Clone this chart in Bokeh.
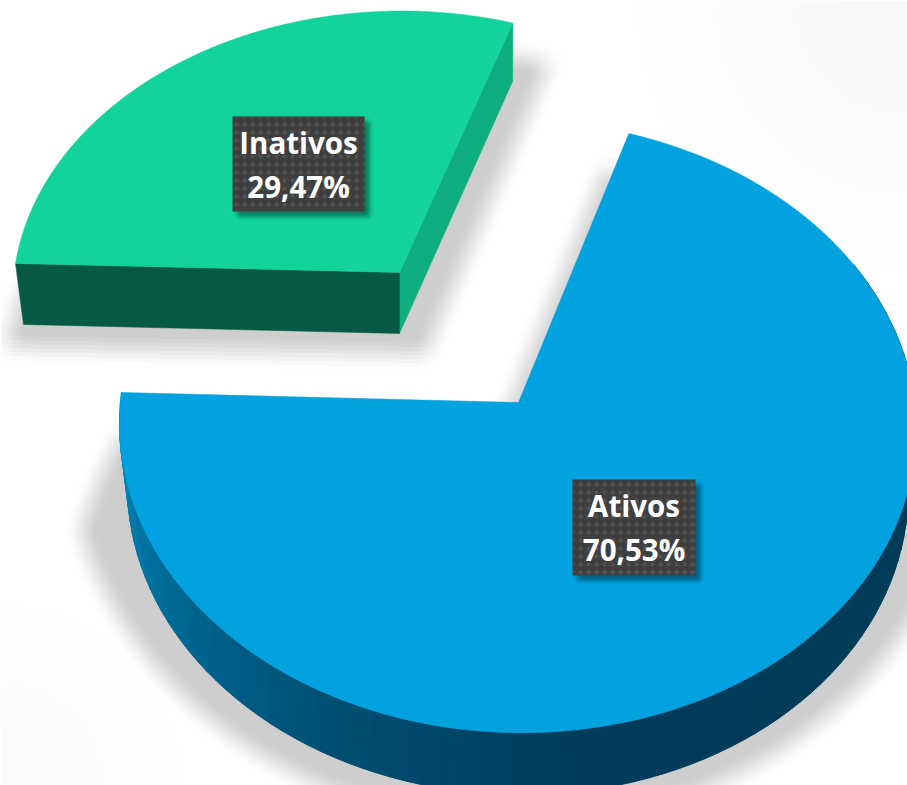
import numpy as np
from bokeh.core.properties import value
from bokeh.embed import file_html
from bokeh.models import Range1d
from bokeh.plotting import figure
from bokeh.resources import INLINE

categories = ["Ativos", "Inativos"]
shares = [70.53, 29.47]
first_slice_start_deg = 16.1

W, H = 907, 785
p = figure(width=W, height=H, output_backend="svg", toolbar_location=None,
           x_range=Range1d(0, W), y_range=Range1d(H, 0),
           x_axis_type=None, y_axis_type=None, min_border=0,
           outline_line_color=None, background_fill_color="white")
p.grid.visible = False

spans = [s / sum(shares) * 360 for s in shares]
a0 = first_slice_start_deg
a1 = a0 + spans[0]
a2 = a1 + spans[1]
K = 0.079


def project(t_deg, cx, cy, rx, ry, sx, ty):
    t = np.radians(np.asarray(t_deg, dtype=float))
    u, v = np.sin(t), np.cos(t)
    w = 1 + K * v
    return cx + (rx * u + sx * v) / w, cy + (-ry * v + ty * u) / w


def arc(start, end, n, *geo):
    return project(np.linspace(start, end, n), *geo)


def wedge(start, end, n, apex, *geo):
    x, y = arc(start, end, n, *geo)
    return np.r_[apex[0], x], np.r_[apex[1], y]


# piece geometries: cx, cy, rx, ry, sx, ty
blue_top = (518, 402, 397, 304, 9, 10)
blue_bot = (518, 464, 389, 304, 9, 10)
green_top = (399, 272, 384, 282, 16, 9)
green_bot = (399, 333, 376, 282, 20, 9)
green_shadow = (425, 355, 420, 330, 19, 7)


def vignette(cx, cy, radii, alpha):
    ang = np.linspace(0, 2 * np.pi, 60)
    xs = [cx + r * np.cos(ang) for r in radii]
    ys = [cy + r * np.sin(ang) for r in radii]
    p.patches(xs, ys, fill_color="black", fill_alpha=alpha, line_color=None)


vignette(907, 0, [70, 110, 150, 190, 230, 270], 0.005)
vignette(0, 785, [60, 100, 140, 180], 0.004)


def soft_shadow(x, y, radius, step, strength):
    off = np.arange(-radius, radius + 1, step)
    pairs = [(a, b) for a in off for b in off if a * a + b * b <= radius * radius]
    alpha = 1 - (1 - strength) ** (1 / len(pairs))
    p.patches([x + a for a, b in pairs], [y + b for a, b in pairs],
              fill_color="black", fill_alpha=alpha, line_color=None)


# blue shadow: cut edge, a wide lower half-ellipse, tapered at its upper left
phi = np.linspace(0, 2.886, 90)
sx_ = np.r_[497, 605, 516 + 452 * np.cos(phi), 97, 118]
sy_ = np.r_[430, 165, 430 + 395 * np.sin(phi), 480, 436]
soft_shadow(sx_, sy_, 16, 4, 0.2)
sx_, sy_ = wedge(a1, a2, 50, (425, 355), *green_shadow)
soft_shadow(sx_, sy_, 16, 4, 0.2)

# blue side wall, shaded strip by strip
stops_t = [60, 120, 170, 205, 235, 255, 272]
stops_rgb = [(0, 60, 88), (0, 60, 88), (0, 61, 90), (0, 80, 115),
             (0, 104, 148), (0, 124, 172), (0, 136, 190)]
edges = np.linspace(60, a1, 101)
sx_list, sy_list, cols = [], [], []
for s, e in zip(edges[:-1], edges[1:]):
    tx, ty = arc(s, e, 2, *blue_top)
    bx, by = arc(e, s, 2, *blue_bot)
    sx_list.append(np.r_[tx, bx])
    sy_list.append(np.r_[ty, by])
    c = [int(np.interp((s + e) / 2, stops_t, [q[i] for q in stops_rgb])) for i in range(3)]
    cols.append("#%02x%02x%02x" % tuple(c))
p.patches(sx_list, sy_list, fill_color=cols, line_color=cols, line_width=1)

# blue top face
bx, by = wedge(a0, a1, 220, (518, 402), *blue_top)
p.patch(bx, by, fill_color="#02a1df", line_color="#02a1df", line_width=0.5)

# green side walls
gtx1, gty1 = project(a1, *green_top)
gbx1, gby1 = project(a1, *green_bot)
gtx2, gty2 = project(a0, *green_top)
gbx2, gby2 = gtx2, gty2 + 58
p.patch([float(gtx2), 399, 399, float(gbx2)], [float(gty2), 272, 333, float(gby2)],
        fill_color="#0fae80", line_color="#0fae80", line_width=0.5)
p.patch([float(gtx1), 399, 399, float(gbx1)], [float(gty1), 272, 333, float(gby1)],
        fill_color="#065a43", line_color="#065a43", line_width=0.5)

# green top face
gx, gy = wedge(a1, a2, 90, (399, 272), *green_top)
p.patch(gx, gy, fill_color="#13d39d", line_color="#13d39d", line_width=0.5)

# labels
boxes = {"Ativos": (572, 695, 479, 575), "Inativos": (232, 364, 116, 211)}
for name, share in zip(categories, shares):
    l, r, t, b = boxes[name]
    bx_ = np.array([l, r, r, l], dtype=float)
    by_ = np.array([t, t, b, b], dtype=float)
    soft_shadow(bx_ + 5, by_ + 5, 4, 2, 0.38)
    p.quad(left=[l], right=[r], top=[t], bottom=[b], fill_color="#3f3f3f", line_color=None,
           hatch_pattern="dot", hatch_color="#525252", hatch_scale=8, hatch_weight=1.6)
    cx = (l + r) / 2
    pct = f"{share:.2f}".replace(".", ",") + "%"
    p.text([cx, cx], [t + 26, t + 70], text=[name, pct], text_color="white",
           text_font=value("Open Sans"), text_font_style="bold", text_font_size="29.5px",
           text_align="center", text_baseline="middle")

open("out.html", "w").write(file_html(p, INLINE))
